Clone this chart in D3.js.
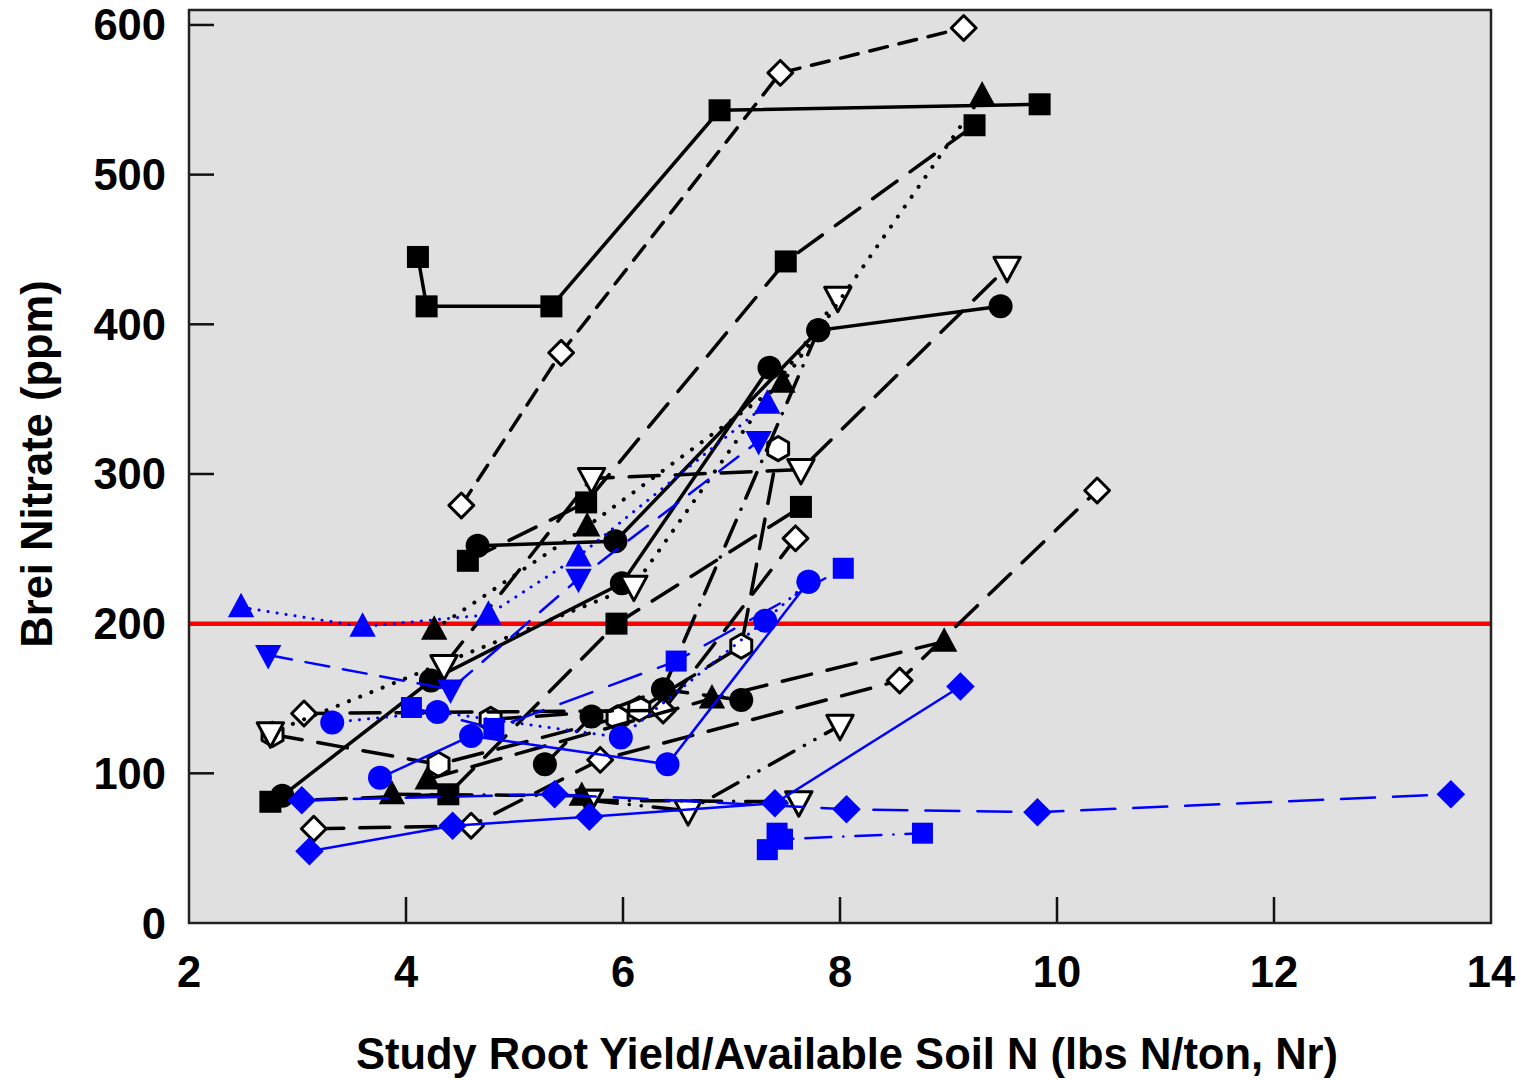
<!DOCTYPE html>
<html>
<head>
<meta charset="utf-8">
<script src="https://cdn.jsdelivr.net/npm/d3@7"></script>
<style>
  html, body { margin: 0; padding: 0; background: #ffffff; }
  svg { display: block; }
  text { font-family: "Liberation Sans", Arial, sans-serif; font-weight: bold; fill: #000; }
</style>
</head>
<body>
<svg id="chart" width="1521" height="1080"></svg>
<script>
// Axis ticks
const xTicks = [2, 4, 6, 8, 10, 12, 14];
const yTicks = [0, 100, 200, 300, 400, 500, 600];
const threshold = 200;

// Field series: [Nr, brei nitrate ppm]
const sqSolid      = [[4.11, 445], [4.19, 412], [5.34, 412], [6.89, 543], [9.84, 547]];
const diaShortDash = [[4.51, 279], [5.43, 381], [7.45, 568], [9.14, 598]];
const sqLongDash   = [[4.57, 242], [5.66, 281], [7.50, 442], [9.24, 533]];
const circSolid    = [[4.66, 252], [5.93, 255], [7.80, 396], [9.48, 412]];
const triDotted    = [[4.26, 196], [5.67, 265], [7.47, 361], [9.31, 553]];
const invLongDash  = [[4.35, 172], [5.71, 297], [7.64, 303], [9.54, 438]];
const invDotted    = [[2.75, 127], [6.10, 225], [7.98, 418]];
const sqLongDash2  = [[2.75, 81], [4.39, 86], [5.94, 200], [7.64, 278]];
const circSolid2   = [[2.86, 85], [4.23, 162], [5.99, 227], [7.35, 371]];
const circLongDash = [[5.28, 106], [5.71, 138], [6.37, 156], [7.09, 149]];
const circDashDot  = [[6.37, 156], [7.80, 396]];
const triLongDash  = [[4.20, 96], [6.82, 150], [8.96, 188]];
const triDashDot   = [[3.87, 86], [5.62, 85]];
const invDashDot2  = [[5.69, 82], [6.60, 75], [8.00, 132]];
const invLongDash2 = [[5.69, 82], [7.62, 81]];
const diaLongDash  = [[3.15, 63], [4.60, 65], [5.79, 109], [8.55, 162], [10.37, 289]];
const diaLongDash2 = [[3.06, 140], [6.37, 142], [7.59, 257]];
const hexLongDash  = [[2.77, 126], [4.30, 106], [5.95, 137]];
const hexLongDash2 = [[4.78, 136], [6.15, 143], [7.09, 185], [7.43, 317]];

const bTriDotted   = [[2.48, 211], [3.60, 198], [4.76, 206], [5.59, 245], [7.33, 347]];
const bInvDashed   = [[2.73, 179], [4.41, 156], [5.59, 230], [7.25, 322]];
const bCircDotted  = [[3.32, 134], [4.29, 141], [5.98, 124], [7.31, 202], [7.71, 228]];
const bCircSolid   = [[3.76, 97], [4.60, 125], [6.41, 106], [7.71, 228]];
const bSqLongDash  = [[4.05, 144], [4.81, 130], [6.49, 175], [8.03, 237]];
const bSqDashDot   = [[7.33, 49], [7.42, 60], [7.47, 56], [8.76, 60]];
const bDiaSolid    = [[3.11, 48], [4.43, 65], [5.69, 71], [7.40, 80], [9.11, 158]];
const bDiaLongDash = [[3.04, 82], [5.37, 86], [8.06, 76], [9.82, 74], [13.63, 86]];

// Plot frame
const plotL = 189, plotR = 1491, plotT = 10, plotB = 923;

const x = d3.scaleLinear().domain([2, 14]).range([plotL, plotR]);
const y = d3.scaleLinear().domain([0, 610]).range([plotB, plotT]);

const svg = d3.select("#chart");

svg.append("rect")
  .attr("x", plotL).attr("y", plotT)
  .attr("width", plotR - plotL).attr("height", plotB - plotT)
  .attr("fill", "#e0e0e0");

// Inward tick marks
const tickG = svg.append("g").attr("stroke", "#111").attr("stroke-width", 2.5);
xTicks.slice(1, -1).forEach(t => {
  tickG.append("line").attr("x1", x(t)).attr("x2", x(t)).attr("y1", plotB).attr("y2", plotB - 26);
});
yTicks.slice(1).forEach(t => {
  tickG.append("line").attr("x1", plotL).attr("x2", plotL + 25).attr("y1", y(t)).attr("y2", y(t));
});

// Threshold line
svg.append("line")
  .attr("x1", plotL).attr("x2", plotR)
  .attr("y1", y(threshold)).attr("y2", y(threshold))
  .attr("stroke", "#ff0000").attr("stroke-width", 4.5);

const dashes = {
  solid: null,
  longDash: "30,16",
  shortDash: "18,12",
  dotted: "0.1,12",
  dashDot: "28,12,0.1,12",
  dashDotDot: "28,12,0.1,12,0.1,12",
  bDotted: "0.1,9",
  bDashed: "24,14",
  bLongDash: "34,18",
  bDashDot: "26,12,0.1,12"
};

// Marker shapes
function markerPath(type, s) {
  switch (type) {
    case "square": {
      const h = s * 0.5;
      return `M${-h},${-h}H${h}V${h}H${-h}Z`;
    }
    case "triUp": {
      const w = s * 0.55;
      return `M0,${-s * 0.6}L${w},${s * 0.42}L${-w},${s * 0.42}Z`;
    }
    case "triDown": {
      const w = s * 0.55;
      return `M0,${s * 0.6}L${w},${-s * 0.42}L${-w},${-s * 0.42}Z`;
    }
    case "diamond": {
      const h = s * 0.62;
      return `M0,${-h}L${h},0L0,${h}L${-h},0Z`;
    }
    case "hexagon": {
      const r = s * 0.55;
      const pts = d3.range(6).map(i => {
        const a = Math.PI / 3 * i - Math.PI / 2;
        return [r * Math.cos(a), r * Math.sin(a)];
      });
      return "M" + pts.map(p => p.join(",")).join("L") + "Z";
    }
  }
}

const line = d3.line().x(d => x(d[0])).y(d => y(d[1]));

function drawSeries(data, opt) {
  const g = svg.append("g");
  g.append("path")
    .attr("d", line(data))
    .attr("fill", "none")
    .attr("stroke", opt.color)
    .attr("stroke-width", opt.width)
    .attr("stroke-linecap", "round")
    .attr("stroke-dasharray", dashes[opt.dash]);
  const m = g.selectAll(".m").data(data).enter();
  if (opt.marker === "circle") {
    m.append("circle")
      .attr("cx", d => x(d[0])).attr("cy", d => y(d[1]))
      .attr("r", 12)
      .attr("fill", opt.fill)
      .attr("stroke", opt.stroke || "none")
      .attr("stroke-width", 3);
  } else {
    m.append("path")
      .attr("transform", d => `translate(${x(d[0])},${y(d[1])})`)
      .attr("d", markerPath(opt.marker, opt.size || 22))
      .attr("fill", opt.fill)
      .attr("stroke", opt.stroke || "none")
      .attr("stroke-width", 3)
      .attr("stroke-linejoin", "round");
  }
}

const K = "#000000", B = "#0000ff";

drawSeries(diaLongDash,  { color: K, width: 3.5, dash: "longDash", marker: "diamond", fill: "#fff", stroke: K, size: 20 });
drawSeries(hexLongDash,  { color: K, width: 3.5, dash: "longDash", marker: "hexagon", fill: "#fff", stroke: K, size: 22 });
drawSeries(hexLongDash2, { color: K, width: 3.5, dash: "longDash", marker: "hexagon", fill: "#fff", stroke: K, size: 22 });
drawSeries(diaLongDash2, { color: K, width: 3.5, dash: "longDash", marker: "diamond", fill: "#fff", stroke: K, size: 20 });
drawSeries(invDashDot2,  { color: K, width: 3.5, dash: "dashDotDot", marker: "triDown", fill: "#fff", stroke: K, size: 24 });
drawSeries(invLongDash2, { color: K, width: 3.5, dash: "dashDot", marker: "triDown", fill: "#fff", stroke: K, size: 24 });
drawSeries(triDashDot,   { color: K, width: 3.5, dash: "dashDot", marker: "triUp", fill: K, size: 24 });
drawSeries(triLongDash,  { color: K, width: 3.5, dash: "longDash", marker: "triUp", fill: K, size: 24 });
drawSeries(circLongDash, { color: K, width: 3.5, dash: "longDash", marker: "circle", fill: K });
drawSeries(circDashDot,  { color: K, width: 3.5, dash: "dashDot", marker: "circle", fill: K });
drawSeries(circSolid2,   { color: K, width: 3.5, dash: "solid", marker: "circle", fill: K });
drawSeries(sqLongDash2,  { color: K, width: 3.5, dash: "longDash", marker: "square", fill: K, size: 22 });
drawSeries(invDotted,    { color: K, width: 4, dash: "dotted", marker: "triDown", fill: "#fff", stroke: K, size: 24 });
drawSeries(invLongDash,  { color: K, width: 3.5, dash: "longDash", marker: "triDown", fill: "#fff", stroke: K, size: 24 });
drawSeries(triDotted,    { color: K, width: 4, dash: "dotted", marker: "triUp", fill: K, size: 24 });
drawSeries(circSolid,    { color: K, width: 3.5, dash: "solid", marker: "circle", fill: K });
drawSeries(sqLongDash,   { color: K, width: 3.5, dash: "longDash", marker: "square", fill: K, size: 22 });
drawSeries(diaShortDash, { color: K, width: 3.5, dash: "shortDash", marker: "diamond", fill: "#fff", stroke: K, size: 20 });
drawSeries(sqSolid,      { color: K, width: 3.5, dash: "solid", marker: "square", fill: K, size: 22 });

drawSeries(bDiaLongDash, { color: B, width: 2.5, dash: "bLongDash", marker: "diamond", fill: B, size: 23 });
drawSeries(bDiaSolid,    { color: B, width: 2.5, dash: "solid", marker: "diamond", fill: B, size: 23 });
drawSeries(bSqDashDot,   { color: B, width: 2.5, dash: "bDashDot", marker: "square", fill: B, size: 21 });
drawSeries(bSqLongDash,  { color: B, width: 2.5, dash: "bLongDash", marker: "square", fill: B, size: 21 });
drawSeries(bCircSolid,   { color: B, width: 2.5, dash: "solid", marker: "circle", fill: B });
drawSeries(bCircDotted,  { color: B, width: 3, dash: "bDotted", marker: "circle", fill: B });
drawSeries(bInvDashed,   { color: B, width: 2.5, dash: "bDashed", marker: "triDown", fill: B, size: 24 });
drawSeries(bTriDotted,   { color: B, width: 3, dash: "bDotted", marker: "triUp", fill: B, size: 24 });

// Frame on top
svg.append("rect")
  .attr("x", plotL).attr("y", plotT)
  .attr("width", plotR - plotL).attr("height", plotB - plotT)
  .attr("fill", "none").attr("stroke", "#222").attr("stroke-width", 2.5);

// Tick labels
const fs = 43.5;
svg.append("g").selectAll("text").data(xTicks).enter().append("text")
  .attr("x", d => x(d)).attr("y", 987)
  .attr("text-anchor", "middle")
  .attr("font-size", fs)
  .text(d => d);

svg.append("g").selectAll("text").data(yTicks).enter().append("text")
  .attr("x", 166).attr("y", d => y(d) + 15.5)
  .attr("text-anchor", "end")
  .attr("font-size", fs)
  .text(d => d);

// Axis titles
svg.append("text")
  .attr("x", 847).attr("y", 1069)
  .attr("text-anchor", "middle")
  .attr("font-size", fs)
  .text("Study Root Yield/Available Soil N (lbs N/ton, Nr)");

svg.append("text")
  .attr("transform", "translate(52,464) rotate(-90)")
  .attr("text-anchor", "middle")
  .attr("font-size", fs)
  .text("Brei Nitrate (ppm)");
</script>
</body>
</html>
